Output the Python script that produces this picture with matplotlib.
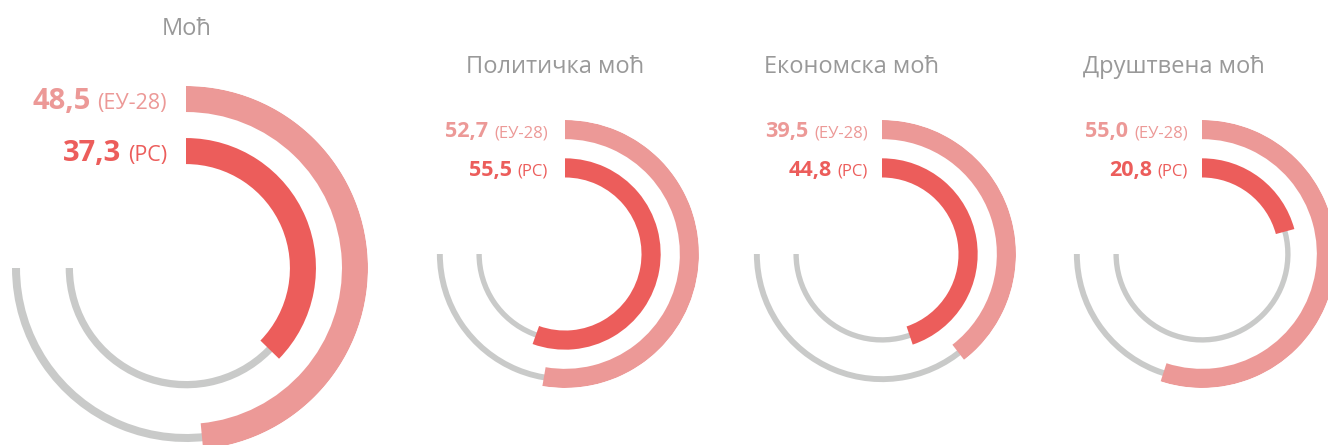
import numpy as np
import matplotlib
matplotlib.use("Agg")
import matplotlib.pyplot as plt

# ---- data ----
titles = ['Моћ', 'Политичка моћ', 'Економска моћ', 'Друштвена моћ']
eu_values = [48.5, 52.7, 39.5, 55.0]
rs_values = [37.3, 55.5, 44.8, 20.8]
eu_tag = '(ЕУ-28)'
rs_tag = '(РС)'
full_scale = 100.0   # value of a full circle
track_max = 75.0     # grey track length

# ---- style / layout ----
W, H = 1328, 445
C_EU = '#EC9997'
C_RS = '#EC5D5B'
C_GREY = '#C9CAC9'
C_TITLE = '#999999'
FONT = ['Open Sans', 'DejaVu Sans']

# panel geometry in pixels (center x, center y, outer radius)
centers = [(186, 268, 182), (565, 254, 134), (882, 254, 134), (1202, 254, 134)]
title_pos = [(187, 35), (555, 73), (851, 73), (1174, 73)]
label_right = [167, 548, 868, 1188]
num_size = [21, 15.5, 15.5, 15.5]
tag_size = [15.5, 12, 12, 12]
label_gap = [7, 6, 6, 6]
title_size = [17, 17, 17, 17]

# normalized radii (outer radius = 1)
OUT0, OUT1 = 0.857, 1.0
IN0, IN1 = 0.571, 0.714
G_OUT_C, G_OUT_T = 0.934, 0.044
G_IN_C, G_IN_T = 0.641, 0.040

plt.rcParams['font.family'] = FONT
fig = plt.figure(figsize=(W / 100, H / 100), dpi=100)
fig.patch.set_facecolor('white')

# overlay axes in pixel coordinates for text
tax = fig.add_axes([0, 0, 1, 1])
tax.set_xlim(0, W)
tax.set_ylim(H, 0)
tax.axis('off')

for i, (cx, cy, R) in enumerate(centers):
    ax = fig.add_axes([(cx - R) / W, (H - (cy + R)) / H, 2 * R / W, 2 * R / H],
                      projection='polar')
    ax.set_theta_zero_location('N')
    ax.set_theta_direction(-1)
    ax.set_ylim(0, 1)
    ax.axis('off')
    ax.patch.set_alpha(0)
    tmax = track_max / full_scale * 2 * np.pi
    # grey tracks
    ax.bar(0, G_OUT_T, width=tmax, bottom=G_OUT_C - G_OUT_T / 2, align='edge',
           color=C_GREY, linewidth=0)
    ax.bar(0, G_IN_T, width=tmax, bottom=G_IN_C - G_IN_T / 2, align='edge',
           color=C_GREY, linewidth=0)
    # value arcs
    ax.bar(0, OUT1 - OUT0, width=eu_values[i] / full_scale * 2 * np.pi, bottom=OUT0,
           align='edge', color=C_EU, linewidth=0)
    ax.bar(0, IN1 - IN0, width=rs_values[i] / full_scale * 2 * np.pi, bottom=IN0,
           align='edge', color=C_RS, linewidth=0)

    # title
    tx, ty = title_pos[i]
    tax.text(tx, ty, titles[i], ha='center', va='baseline', fontsize=title_size[i],
             color=C_TITLE)

    # labels: baseline at band center + half cap height
    cap = num_size[i] * 100 / 72 * 0.714
    y_eu = cy - R * (OUT0 + OUT1) / 2 + cap / 2
    y_rs = cy - R * (IN0 + IN1) / 2 + cap / 2
    xr = label_right[i]
    for val, tag, col, yb in [(eu_values[i], eu_tag, C_EU, y_eu),
                              (rs_values[i], rs_tag, C_RS, y_rs)]:
        t = tax.text(xr, yb, tag, ha='right', va='baseline', fontsize=tag_size[i],
                     color=col)
        fig.canvas.draw()
        bb = t.get_window_extent()
        x0 = tax.transData.inverted().transform((bb.x0, bb.y0))[0]
        tax.text(x0 - label_gap[i], yb, f'{val:.1f}'.replace('.', ','),
                 ha='right', va='baseline', fontsize=num_size[i],
                 fontweight='bold', color=col)

fig.savefig('out.png', dpi=100, facecolor='white')
